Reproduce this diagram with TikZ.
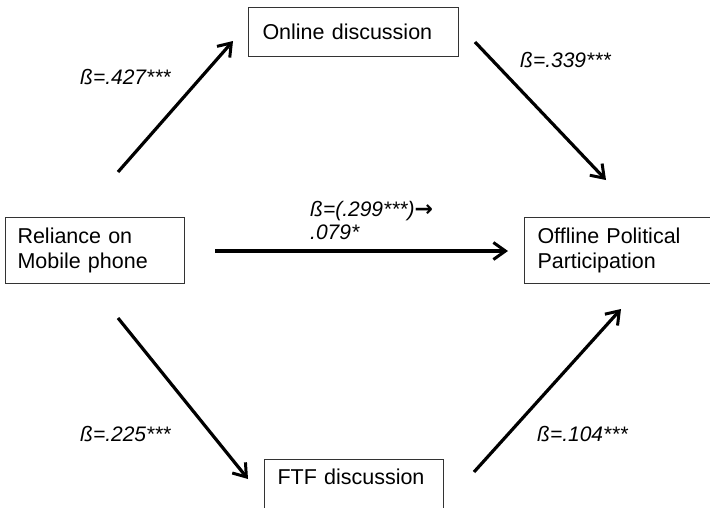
\documentclass[tikz,border=0pt]{standalone}
\usepackage{fontspec}
\setmainfont{Liberation Sans}
\newfontfamily\arrowfont{DejaVu Sans}
\usetikzlibrary{arrows.meta}
\begin{document}
\begin{tikzpicture}[x=1pt,y=-1pt,
  varbox/.style={draw=black!80, line width=1pt, rectangle, align=left,
    inner sep=0pt, font=\fontsize{21.5}{25}\selectfont, anchor=north west},
  coef/.style={font=\fontsize{21}{25}\selectfont\itshape, anchor=base west, inner sep=0pt},
  path/.style={line width=3.2pt, -{Straight Barb[length=12pt,width=17pt,line width=3pt]}}]
  \useasboundingbox (0,0) rectangle (710,507);

  % variable boxes
  \node[varbox, minimum width=210pt, minimum height=49pt, text width=182pt] (online) at (248,7) {Online discussion};
  \node[varbox, minimum width=179pt, minimum height=66pt, text width=155pt] (reliance) at (5,217) {Reliance on\\Mobile phone};
  \node[varbox, minimum width=186pt, minimum height=66pt, text width=160pt] (offline) at (524,217) {Offline Political\\Participation};
  \node[varbox, minimum width=179pt, minimum height=66pt, text width=153pt] (ftf) at (264,459) {FTF discussion\\\strut};

  % arrow end points
  \coordinate (a1) at (118,172); \coordinate (a2) at (233,41);
  \coordinate (b1) at (475,42);  \coordinate (b2) at (606,180);
  \coordinate (c1) at (215,251); \coordinate (c2) at (508,251);
  \coordinate (d1) at (118,318); \coordinate (d2) at (248,479);
  \coordinate (e1) at (474,472); \coordinate (e2) at (621,309);

  \draw[path] (a1) -- (a2);
  \draw[path] (b1) -- (b2);
  \draw[path] (c1) -- (c2);
  \draw[path] (d1) -- (d2);
  \draw[path] (e1) -- (e2);

  % path coefficients
  \node[coef] (la) at (80,84) {ß=.427***};
  \node[coef] (lb) at (520,67) {ß=.339***};
  \node[coef] (lc) at (310,216) {ß=(.299***){\arrowfont\bfseries\upshape\fontsize{22}{25}\selectfont →}};
  \node[coef] (ld) at (310,239) {.079*};
  \node[coef] (le) at (80,441) {ß=.225***};
  \node[coef] (lf) at (537,441) {ß=.104***};
\end{tikzpicture}
\end{document}
